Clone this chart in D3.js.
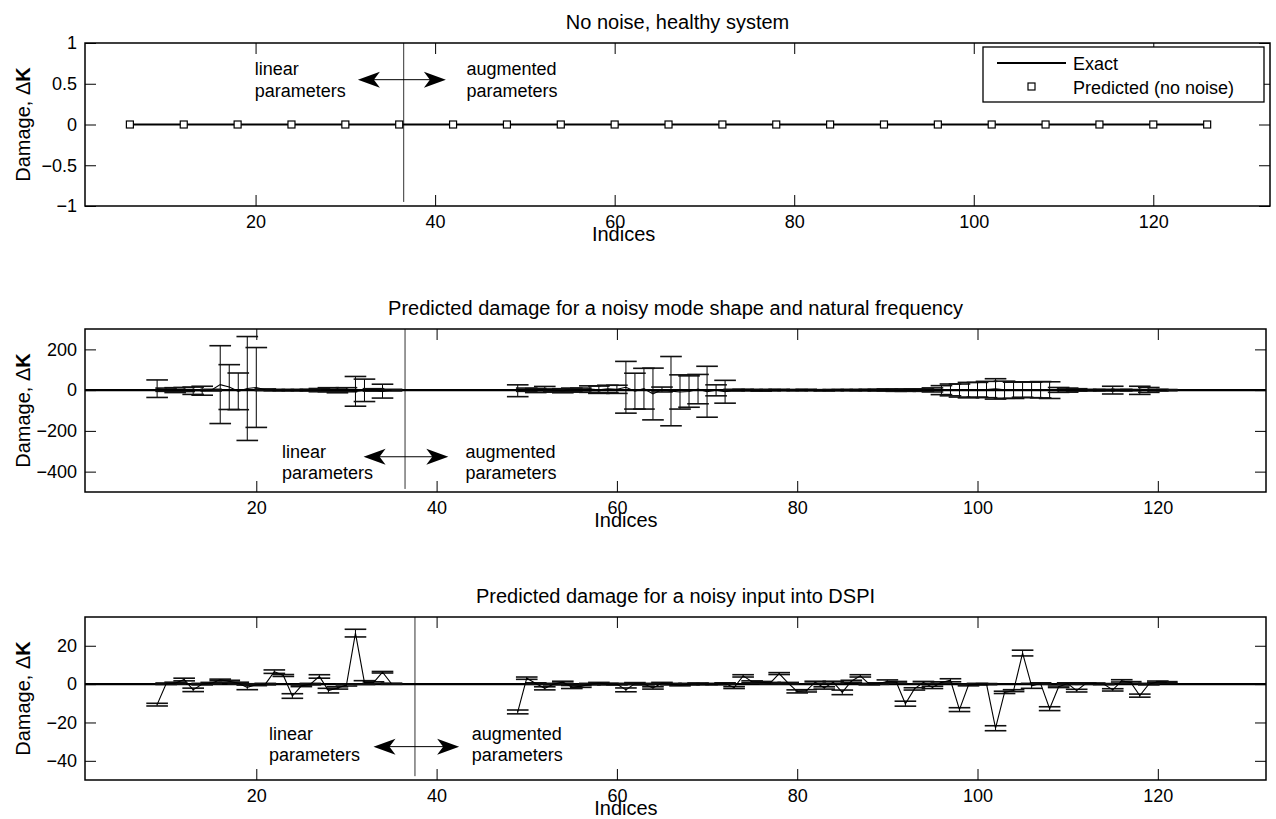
<!DOCTYPE html>
<html>
<head>
<meta charset="utf-8">
<script src="https://cdn.jsdelivr.net/npm/d3@7"></script>
<style>
  body { margin: 0; background: #fff; }
  text { font-family: "Liberation Sans", Arial, Helvetica, sans-serif; fill: #000; }
</style>
</head>
<body>
<svg id="chart" width="1276" height="819"></svg>
<script>
// ---- data ----
const xTicks = [20, 40, 60, 80, 100, 120];

// panel 1: no noise, healthy system
const healthyIdx = [6, 12, 18, 24, 30, 36, 42, 48, 54, 60, 66, 72, 78, 84, 90, 96, 102, 108, 114, 120, 126];
const healthyVal = [0, 0, 0, 0, 0, 0, 0, 0, 0, 0, 0, 0, 0, 0, 0, 0, 0, 0, 0, 0, 0];
const healthyYTicks = [-1, -0.5, 0, 0.5, 1];

// panel 2: noisy mode shape and natural frequency
const modeIdx = [9, 10, 11, 12, 13, 14, 15, 16, 17, 18, 19, 20, 21, 22, 23, 24, 25, 26, 27, 28, 29, 30, 31, 32, 33, 34, 35,
  49, 50, 51, 52, 53, 54, 55, 56, 57, 58, 59, 60, 61, 62, 63, 64, 65, 66, 67, 68, 69, 70, 71, 72, 73, 74, 75, 76, 77, 78, 79, 80,
  81, 82, 83, 84, 85, 86, 87, 88, 89, 90, 91, 92, 93, 94, 95, 96, 97, 98, 99, 100, 101, 102, 103, 104, 105, 106, 107, 108, 109, 110,
  111, 112, 113, 114, 115, 116, 117, 118, 119, 120, 121];
const modeVal = [7, 2, 0, 3, -3, -3, 0, 27, 15, -6, 8, 13, 2, 0, 0, 0, 0, 0, 0, 2, -1, 2, -6, -1, 1, -5, 0,
  -3, 2, -2, 4, 0, -3, 2, 0, 5, 2, 6, 4, 14, -5, 7, -19, 3, -5, -9, -7, 5, -8, -1, -8, 0, 1, 0, -1, 0, 1, 0, 0,
  1, 0, -1, 0, 1, 0, 0, 1, 0, 1, -1, 0, 1, 0, 1, 0, 1, -2, 0, 2, 3, 6, 2, -1, 3, 1, 2, 0, 1, 0,
  1, 0, 0, 0, 0, 0, 0, -1, 1, 0, 0];
const modeErr = [43, 8, 12, 10, 18, 22, 4, 191, 110, 90, 255, 196, 4, 3, 3, 3, 3, 4, 8, 10, 12, 10, 73, 55, 6, 34, 4,
  29, 8, 10, 14, 6, 10, 8, 10, 16, 18, 18, 20, 127, 88, 100, 127, 12, 170, 84, 77, 72, 125, 27, 56, 4, 3, 3, 4, 3, 3, 2, 3,
  3, 2, 3, 3, 2, 3, 3, 3, 4, 5, 5, 6, 5, 6, 10, 22, 29, 32, 38, 36, 40, 50, 42, 40, 38, 38, 40, 41, 12, 10,
  6, 3, 3, 4, 19, 4, 3, 20, 12, 4, 3];
const modeYTicks = [-400, -200, 0, 200];

// panel 3: noisy input into DSPI
const inputIdx = modeIdx;
const inputVal = [-10.7, 0.2, 0.5, 2.4, -3, 0, 0.5, 2.2, 1.5, 0.5, -1.7, -0.3, 0, 6.5, 4.5, -6.2, -0.9, 0, 4, -3.4, -2, -0.5, 26.6, 0.8, 0.8, 6.2, 0.2,
  -14.5, 3.1, 0.3, -2.2, 0, 1, -1.5, -1.2, 0, 0.5, 0, 0, -3, 0.3, 0, -2, 0.5, 0, -0.5, 0, 0.2, 0, 0, 0.3, -1.8, 4.3, 1.2, 1, 0.5, 5.5, 0.5, -3.8,
  -3.5, 1, -2, 1, -4.3, 1.5, 4.3, 0, 0.3, 1.4, 1, -10.2, -2.5, 0.9, -1.7, 0.8, 2, -13.3, -0.5, 0, 0, -23, -4.3, -3.4, 16.2, -0.9, 0.3, -12.8, -1.4, 0.3,
  -3.4, 0.3, 0.3, 0, -3, 1.7, 0.9, -6, 0, 1.2, 1];
const inputErr = [0.7, 0.4, 0.5, 0.7, 0.9, 0.4, 0.4, 0.4, 0.5, 0.5, 1.2, 0.5, 0.4, 0.9, 0.5, 1.2, 0.4, 0.4, 0.9, 1.2, 0.6, 0.5, 2, 1, 0.4, 0.4, 0.3,
  1, 0.6, 0.4, 0.8, 0.4, 0.5, 0.8, 0.5, 0.4, 0.4, 0.4, 0.4, 1, 0.5, 0.4, 0.6, 0.4, 0.4, 0.4, 0.4, 0.4, 0.3, 0.3, 0.4, 0.5, 0.6, 0.5, 0.4, 0.4, 0.5, 0.4, 0.8,
  0.6, 0.5, 0.6, 0.5, 1.2, 0.5, 0.6, 0.4, 0.4, 0.8, 0.4, 1.3, 0.6, 0.5, 0.6, 0.4, 0.8, 1, 0.4, 0.4, 0.3, 1.3, 0.6, 0.5, 1.5, 1.3, 0.4, 1, 0.4, 0.4,
  0.7, 0.4, 0.3, 0.3, 0.6, 0.6, 0.4, 0.8, 0.4, 0.4, 0.3];
const inputYTicks = [-40, -20, 0, 20];

const panels = [
  {
    title: 'No noise, healthy system',
    left: 85, right: 1270, top: 43, bottom: 206,
    xDomain: [1, 133], yDomain: [-1, 1], yTicks: healthyYTicks,
    split: 36.5, splitY: [1, -0.95],
    arrow: {x1: 31.4, x2: 41.2, y: 0.55, left: 19.9, right: 43.5, y1: 0.61, y2: 0.34}
  },
  {
    title: 'Predicted damage for a noisy mode shape and natural frequency',
    left: 85, right: 1266, top: 329, bottom: 492,
    xDomain: [1, 132], yDomain: [-500, 300], yTicks: modeYTicks,
    idx: modeIdx, val: modeVal, err: modeErr,
    split: 36.5, splitY: [300, -485],
    arrow: {x1: 31.9, x2: 41.3, y: -327, left: 22.85, right: 43.2, y1: -331, y2: -434}
  },
  {
    title: 'Predicted damage for a noisy input into DSPI',
    left: 85, right: 1266, top: 617, bottom: 780,
    xDomain: [1, 132], yDomain: [-50, 35], yTicks: inputYTicks,
    idx: inputIdx, val: inputVal, err: inputErr,
    split: 37.6, splitY: [35, -48],
    arrow: {x1: 33.0, x2: 42.5, y: -32.6, left: 21.4, right: 43.9, y1: -29.2, y2: -40.1}
  }
];

const svg = d3.select('#chart');
const FONT_TICK = 18, FONT_LABEL = 20, FONT_NOTE = 18;
const XLABEL_AT = 61;   // the x label sits under index ~61, not at the axes centre

function arrowHead(x, y, dir) {
  // filled MATLAB-style head, tip at (x, y), dir = +1 points right
  const L = 22, W = 8, N = 6;
  return `M${x},${y} L${x - dir * L},${y - W} L${x - dir * (L - N)},${y} L${x - dir * L},${y + W} Z`;
}

panels.forEach((p, k) => {
  const x = d3.scaleLinear().domain(p.xDomain).range([p.left, p.right]);
  const y = d3.scaleLinear().domain(p.yDomain).range([p.bottom, p.top]);
  const g = svg.append('g');

  // axes, ticks pointing inward on all four sides
  const styleAxis = sel => {
    sel.select('.domain').remove();
    sel.selectAll('.tick line').attr('stroke', '#000').attr('stroke-width', 1);
    sel.selectAll('.tick text').attr('font-size', FONT_TICK).attr('fill', '#000')
      .style('font-family', '"Liberation Sans", Arial, sans-serif');
  };
  g.append('g').attr('transform', `translate(0,${p.bottom})`)
    .call(d3.axisBottom(x).tickValues(xTicks).tickSizeInner(-11).tickSizeOuter(0).tickPadding(9))
    .call(styleAxis);
  g.append('g').attr('transform', `translate(0,${p.top})`)
    .call(d3.axisTop(x).tickValues(xTicks).tickSizeInner(-11).tickSizeOuter(0).tickFormat(''))
    .call(styleAxis);
  g.append('g').attr('transform', `translate(${p.left},0)`)
    .call(d3.axisLeft(y).tickValues(p.yTicks).tickFormat(d3.format('~g'))
      .tickSizeInner(-11).tickSizeOuter(0).tickPadding(8))
    .call(styleAxis);
  g.append('g').attr('transform', `translate(${p.right},0)`)
    .call(d3.axisRight(y).tickValues(p.yTicks).tickSizeInner(-11).tickSizeOuter(0).tickFormat(''))
    .call(styleAxis);

  // divider between linear and augmented parameters
  g.append('line')
    .attr('x1', x(p.split)).attr('x2', x(p.split))
    .attr('y1', y(p.splitY[0])).attr('y2', y(p.splitY[1]))
    .attr('stroke', '#333').attr('stroke-width', 1);

  if (k === 0) {
    // exact + predicted (no noise)
    const line = d3.line().x((d, i) => x(healthyIdx[i])).y(d => y(d));
    g.append('path').datum(healthyVal).attr('d', line)
      .attr('fill', 'none').attr('stroke', '#000').attr('stroke-width', 2.2);
    g.selectAll('.sq').data(healthyVal).enter().append('rect')
      .attr('class', 'sq')
      .attr('x', (d, i) => x(healthyIdx[i]) - 3.5).attr('y', d => y(d) - 3.5)
      .attr('width', 7).attr('height', 7)
      .attr('fill', '#fff').attr('stroke', '#000').attr('stroke-width', 1.2);
  } else {
    // exact damage (zero) across the whole axis
    g.append('line')
      .attr('x1', x(p.xDomain[0])).attr('x2', x(p.xDomain[1]))
      .attr('y1', y(0)).attr('y2', y(0))
      .attr('stroke', '#000').attr('stroke-width', 2.2);

    const pts = p.idx.map((d, i) => ({i: d, v: p.val[i], e: p.err[i]}));
    const eb = g.append('g');
    eb.selectAll('.bar').data(pts).enter().append('line')
      .attr('x1', d => x(d.i)).attr('x2', d => x(d.i))
      .attr('y1', d => y(d.v - d.e)).attr('y2', d => y(d.v + d.e))
      .attr('stroke', '#000').attr('stroke-width', 1);
    ['lo', 'hi'].forEach(side => {
      eb.selectAll('.cap-' + side).data(pts).enter().append('line')
        .attr('x1', d => x(d.i - 1.2)).attr('x2', d => x(d.i + 1.2))
        .attr('y1', d => y(side === 'lo' ? d.v - d.e : d.v + d.e))
        .attr('y2', d => y(side === 'lo' ? d.v - d.e : d.v + d.e))
        .attr('stroke', '#111').attr('stroke-width', 1.6);
    });

    // predicted line, broken where indices jump
    const line = d3.line().x(d => x(d.i)).y(d => y(d.v))
      .defined(d => !d.gap);
    const withGaps = [];
    pts.forEach((d, i) => {
      if (i > 0 && d.i - pts[i - 1].i > 1) withGaps.push({gap: true});
      withGaps.push(d);
    });
    g.append('path').datum(withGaps).attr('d', line)
      .attr('fill', 'none').attr('stroke', '#000').attr('stroke-width', 1.1);
  }

  // frame
  g.append('rect')
    .attr('x', p.left).attr('y', p.top)
    .attr('width', p.right - p.left).attr('height', p.bottom - p.top)
    .attr('fill', 'none').attr('stroke', '#000').attr('stroke-width', 1.5);

  // annotation: linear <-> augmented parameters
  const a = p.arrow;
  g.append('line')
    .attr('x1', x(a.x1) + 10).attr('x2', x(a.x2) - 10)
    .attr('y1', y(a.y)).attr('y2', y(a.y))
    .attr('stroke', '#000').attr('stroke-width', 1);
  g.append('path').attr('d', arrowHead(x(a.x1), y(a.y), -1)).attr('fill', '#000');
  g.append('path').attr('d', arrowHead(x(a.x2), y(a.y), 1)).attr('fill', '#000');
  [['linear', a.left, a.y1], ['parameters', a.left, a.y2],
   ['augmented', a.right, a.y1], ['parameters', a.right, a.y2]].forEach(t => {
    g.append('text').attr('x', x(t[1])).attr('y', y(t[2]))
      .attr('font-size', FONT_NOTE).text(t[0]);
  });

  // titles and axis labels
  const cx = (p.left + p.right) / 2;
  g.append('text').attr('x', cx).attr('y', p.top - 14)
    .attr('text-anchor', 'middle').attr('font-size', FONT_LABEL).text(p.title);
  g.append('text').attr('x', x(XLABEL_AT)).attr('y', p.bottom + 34.5)
    .attr('text-anchor', 'middle').attr('font-size', FONT_LABEL).text('Indices');
  const yl = g.append('text')
    .attr('transform', `translate(30,${(p.top + p.bottom) / 2}) rotate(-90)`)
    .attr('text-anchor', 'middle').attr('font-size', FONT_LABEL);
  yl.append('tspan').text('Damage, \u0394');
  yl.append('tspan').attr('font-weight', 'bold').text('K');

  if (k === 0) {
    // legend
    const lg = g.append('g');
    lg.append('rect').attr('x', 983).attr('y', 47).attr('width', 281).attr('height', 55)
      .attr('fill', '#fff').attr('stroke', '#000').attr('stroke-width', 1.3);
    lg.append('line').attr('x1', 997).attr('x2', 1066).attr('y1', 63).attr('y2', 63)
      .attr('stroke', '#000').attr('stroke-width', 2.2);
    lg.append('rect').attr('x', 1028).attr('y', 83).attr('width', 7).attr('height', 7)
      .attr('fill', '#fff').attr('stroke', '#000').attr('stroke-width', 1.2);
    lg.append('text').attr('x', 1073).attr('y', 69.5).attr('font-size', FONT_TICK).text('Exact');
    lg.append('text').attr('x', 1073).attr('y', 93.5).attr('font-size', FONT_TICK).text('Predicted (no noise)');
  }
});
</script>
</body>
</html>
